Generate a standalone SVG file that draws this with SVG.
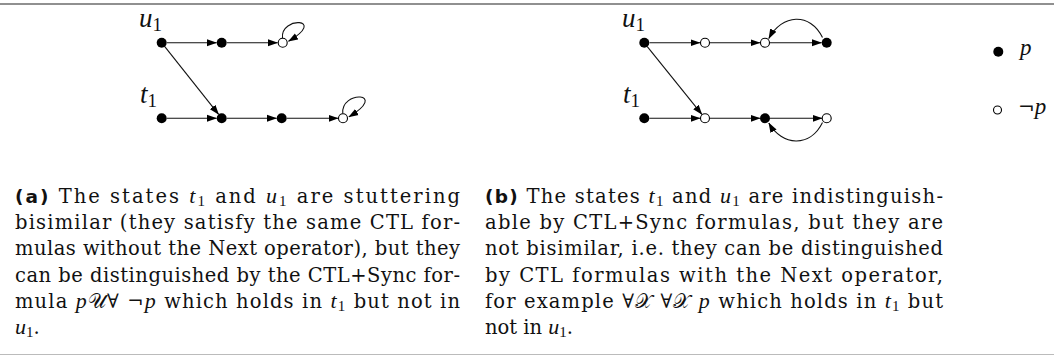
<svg xmlns="http://www.w3.org/2000/svg" width="1054" height="356" viewBox="0 0 1054 356">
<style>
.cap{font-family:"DejaVu Serif","Liberation Serif",serif;font-size:19.5px;fill:#111}
.lab{font-family:"Liberation Serif",serif;font-style:italic;font-size:27px;fill:#111}
.it{font-family:"Liberation Serif",serif;font-style:italic;font-size:22px}
.sub{font-family:"Liberation Serif",serif;font-size:15px;font-style:normal}
.lsub{font-size:19px;font-style:normal}
.b{font-family:"DejaVu Sans","Liberation Sans",sans-serif;font-weight:bold;font-size:18.5px}
.e{fill:none;stroke:#111;stroke-width:1.1;marker-end:url(#ah)}
.f{fill:#000}
.o{fill:#fff;stroke:#000;stroke-width:1.1}
</style>
<defs>
<marker id="ah" markerWidth="10" markerHeight="8" refX="9.5" refY="4" orient="auto" markerUnits="userSpaceOnUse"><path d="M0,0.5 L10,4 L0,7.5 z" fill="#000"/></marker>
</defs>
<line x1="0" y1="4" x2="1054" y2="4" stroke="#222" stroke-width="1.2"/>
<line x1="0" y1="354.5" x2="1054" y2="354.5" stroke="#bbb" stroke-width="1"/>

<g id="connectors">
<!-- panel a -->
<line class="e" x1="167" y1="42.7" x2="216.5" y2="42.7"/>
<line class="e" x1="227" y1="42.7" x2="277.5" y2="42.7"/>
<path class="e" d="M282.5,38 C280,16 328,18 288.5,41.3"/>
<line class="e" x1="164.8" y1="46.6" x2="218.6" y2="114.4"/>
<line class="e" x1="167" y1="118.3" x2="216.5" y2="118.3"/>
<line class="e" x1="227" y1="118.3" x2="276.5" y2="118.3"/>
<line class="e" x1="287" y1="118.3" x2="338" y2="118.3"/>
<path class="e" d="M342.8,113.6 C340.3,90 390,92 348.8,116.9"/>
<!-- panel b -->
<line class="e" x1="649.5" y1="42.7" x2="700" y2="42.7"/>
<line class="e" x1="710" y1="42.7" x2="760" y2="42.7"/>
<line class="e" x1="770" y1="42.7" x2="821.5" y2="42.7"/>
<path class="e" d="M822.5,37.5 C810,12 782,14 768.8,38.5"/>
<line class="e" x1="647.3" y1="46.6" x2="701.9" y2="114.4"/>
<line class="e" x1="649.5" y1="118.3" x2="700" y2="118.3"/>
<line class="e" x1="710" y1="118.3" x2="760" y2="118.3"/>
<line class="e" x1="770" y1="118.3" x2="822" y2="118.3"/>
<path class="e" d="M822.5,122.5 C810,148 782,146 768.8,123"/>
</g>

<g id="a-u1"><circle class="f" cx="161.7" cy="42.7" r="5"/><text class="lab" x="139" y="27">u<tspan class="lsub" dy="4">1</tspan></text></g>
<g id="a-u2"><circle class="f" cx="221.7" cy="42.7" r="5"/></g>
<g id="a-u3"><circle class="o" cx="282.7" cy="42.7" r="4.5"/></g>
<g id="a-t1"><circle class="f" cx="161.7" cy="118.3" r="5"/><text class="lab" x="140" y="103">t<tspan class="lsub" dy="4">1</tspan></text></g>
<g id="a-t2"><circle class="f" cx="221.7" cy="118.3" r="5"/></g>
<g id="a-t3"><circle class="f" cx="281.7" cy="118.3" r="5"/></g>
<g id="a-t4"><circle class="o" cx="343" cy="118.3" r="4.5"/></g>

<g id="b-u1"><circle class="f" cx="644.3" cy="42.7" r="5"/><text class="lab" x="622" y="27">u<tspan class="lsub" dy="4">1</tspan></text></g>
<g id="b-u2"><circle class="o" cx="705" cy="42.7" r="4.5"/></g>
<g id="b-u3"><circle class="o" cx="765" cy="42.7" r="4.5"/></g>
<g id="b-u4"><circle class="f" cx="826.7" cy="42.7" r="5"/></g>
<g id="b-t1"><circle class="f" cx="644.3" cy="118.3" r="5"/><text class="lab" x="623" y="103">t<tspan class="lsub" dy="4">1</tspan></text></g>
<g id="b-t2"><circle class="o" cx="705" cy="118.3" r="4.5"/></g>
<g id="b-t3"><circle class="f" cx="765" cy="118.3" r="5"/></g>
<g id="b-t4"><circle class="o" cx="826.7" cy="118.3" r="4.5"/></g>

<g id="legend">
<circle class="f" cx="998.3" cy="51.7" r="5"/>
<text class="lab" x="1020" y="55" style="font-size:23px">p</text>
<circle class="o" cx="997.5" cy="110" r="4"/>
<text class="cap" x="1018" y="114" style="font-size:20px">¬<tspan class="it" style="font-size:23px">p</tspan></text>
</g>

<g id="caption-a">
<text class="cap" x="15" y="203" textLength="445" lengthAdjust="spacing"><tspan class="b">(a)</tspan> The states <tspan class="it">t</tspan><tspan class="sub" dy="3">1</tspan><tspan dy="-3"> and </tspan><tspan class="it">u</tspan><tspan class="sub" dy="3">1</tspan><tspan dy="-3"> are stuttering</tspan></text>
<text class="cap" x="15" y="229" textLength="445" lengthAdjust="spacing">bisimilar (they satisfy the same CTL for-</text>
<text class="cap" x="15" y="255" textLength="445" lengthAdjust="spacing">mulas without the Next operator), but they</text>
<text class="cap" x="15" y="282" textLength="445" lengthAdjust="spacing">can be distinguished by the CTL+Sync for-</text>
<text class="cap" x="15" y="308" textLength="445" lengthAdjust="spacing">mula <tspan class="it">p</tspan>𝒰∀ ¬<tspan class="it">p</tspan> which holds in <tspan class="it">t</tspan><tspan class="sub" dy="3">1</tspan><tspan dy="-3"> but not in</tspan></text>
<text class="cap" x="15" y="334"><tspan class="it">u</tspan><tspan class="sub" dy="3">1</tspan><tspan dy="-3">.</tspan></text>
</g>

<g id="caption-b">
<text class="cap" x="485" y="203" textLength="458" lengthAdjust="spacing"><tspan class="b">(b)</tspan> The states <tspan class="it">t</tspan><tspan class="sub" dy="3">1</tspan><tspan dy="-3"> and </tspan><tspan class="it">u</tspan><tspan class="sub" dy="3">1</tspan><tspan dy="-3"> are indistinguish-</tspan></text>
<text class="cap" x="485" y="229" textLength="458" lengthAdjust="spacing">able by CTL+Sync formulas, but they are</text>
<text class="cap" x="485" y="255" textLength="458" lengthAdjust="spacing">not bisimilar, i.e. they can be distinguished</text>
<text class="cap" x="485" y="282" textLength="458" lengthAdjust="spacing">by CTL formulas with the Next operator,</text>
<text class="cap" x="485" y="308" textLength="458" lengthAdjust="spacing">for example ∀𝒳 ∀𝒳 <tspan class="it">p</tspan> which holds in <tspan class="it">t</tspan><tspan class="sub" dy="3">1</tspan><tspan dy="-3"> but</tspan></text>
<text class="cap" x="485" y="334">not in <tspan class="it">u</tspan><tspan class="sub" dy="3">1</tspan><tspan dy="-3">.</tspan></text>
</g>
</svg>
